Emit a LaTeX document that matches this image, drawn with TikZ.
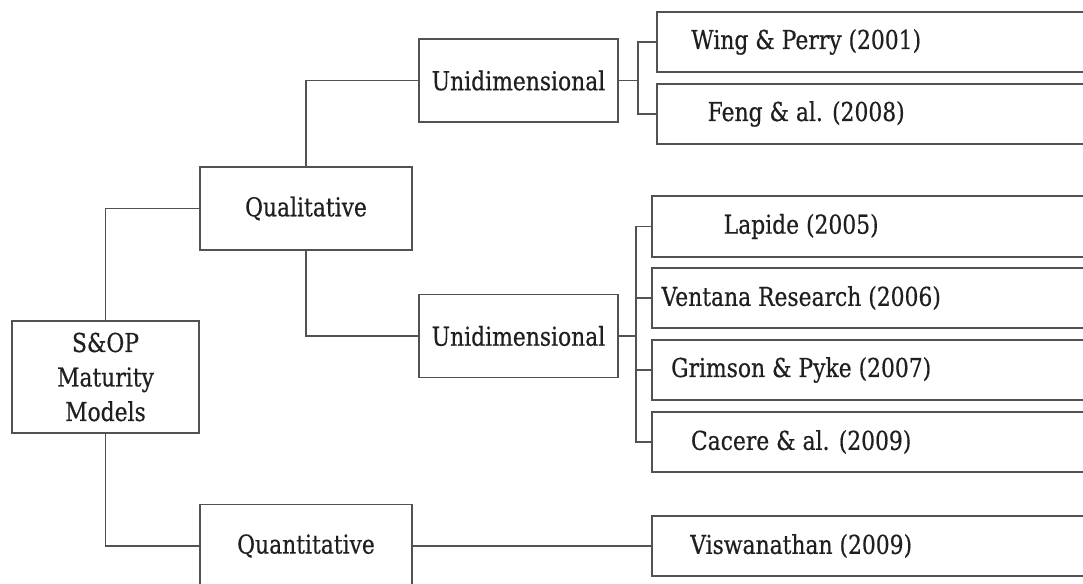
\documentclass[tikz,border=0pt]{standalone}
\usepackage{fontspec}
\setmainfont{DejaVu Serif}[FakeStretch=0.84, FakeBold=0.5]
\usetikzlibrary{calc}

\begin{document}
\begin{tikzpicture}[x=1pt, y=-1pt,
  font=\fontsize{26}{34.5}\selectfont,
  every node/.style={text=black!88},
  link/.style={draw=black!68, line width=1.9pt},
  box/.style={draw=black!68, line width=1.9pt, inner sep=0pt, align=center},
  mid/.style={box, minimum width=212, minimum height=83},
  uni/.style={box, minimum width=199, minimum height=83},
  leaf/.style={anchor=west, inner sep=0pt, minimum width=298, minimum height=60},
  leafframe/.style={draw=black!68, line width=1.9pt}
]
\clip (0,0) rectangle (1083,583);

% root and first level
\node[box, minimum width=187, minimum height=112] (root) at (105.5,377) {S\&OP\\Maturity\\Models};
\node[mid] (qual) at (306,208.5) {Qualitative};
\node[mid] (quant) at (306,546) {Quantitative};

% second level
\node[uni] (uniA) at (518.5,80.5) {Unidimensional};
\node[uni] (uniB) at (518.5,336) {Unidimensional};

% references (boxes run on past the right edge)
\node[leaf] (wing) at (657,42) {Wing \& Perry (2001)};
\node[leaf] (feng) at (657,114) {Feng \& al. (2008)};
\node[leaf] (lapide) at (652,226.5) {Lapide (2005)};
\node[leaf] (ventana) at (652,298) {Ventana Research (2006)};
\node[leaf] (grimson) at (652,370) {Grimson \& Pyke (2007)};
\node[leaf] (cacere) at (652,442) {Cacere \& al. (2009)};
\node[leaf] (visw) at (652,546) {Viswanathan (2009)};

\foreach \n in {wing,feng,lapide,ventana,grimson,cacere,visw}
  \draw[leafframe] ([xshift=500]\n.north west) -- (\n.north west)
    -- (\n.south west) -- ([xshift=500]\n.south west);

% connectors
\draw[link] (root.north) |- (qual.west);
\draw[link] (root.south) |- (quant.west);
\draw[link] (qual.north) |- (uniA.west);
\draw[link] (qual.south) |- (uniB.west);

\coordinate (busA) at ($(uniA.east)+(19,0)$);
\draw[link] (uniA.east) -- (busA);
\draw[link] (wing.west) -| (busA) |- (feng.west);

\coordinate (busB) at ($(uniB.east)+(17,0)$);
\draw[link] (uniB.east) -- (busB);
\draw[link] (lapide.west) -| (busB) |- (cacere.west);
\draw[link] (ventana.west) -- (ventana.west -| busB);
\draw[link] (grimson.west) -- (grimson.west -| busB);

\draw[link] (quant.east) -- (visw.west);
\end{tikzpicture}
\end{document}
